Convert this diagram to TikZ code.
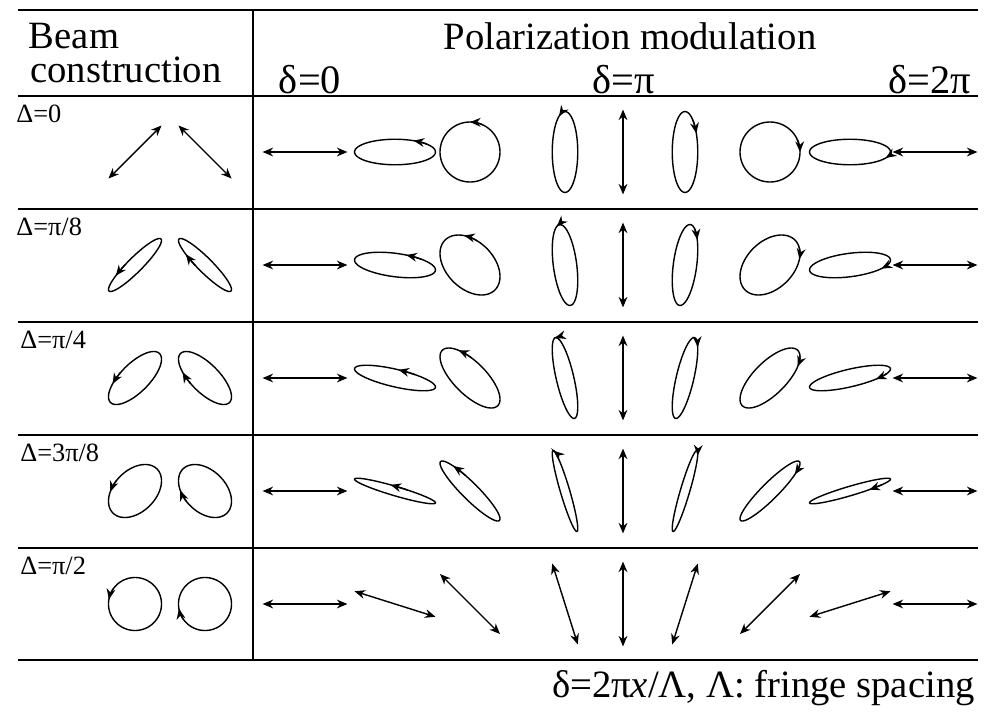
\documentclass[tikz,border=0pt]{standalone}
\usepackage{fontspec}
\setmainfont{Liberation Serif}
\usetikzlibrary{arrows.meta}
\begin{document}
\begin{tikzpicture}[x=0.02cm,y=-0.02cm,
  rule/.style={line width=0.9pt},
  pol/.style={line width=0.8pt},
  lin/.style={line width=0.8pt,{Stealth[length=6pt,width=5pt]}-{Stealth[length=6pt,width=5pt]}},
  tip/.style={line width=0.8pt,-{Stealth[length=6pt,width=5pt]}},
  big/.style={font=\fontsize{22}{24}\selectfont,inner sep=0pt},
  mid/.style={font=\fontsize{23}{25}\selectfont,inner sep=0pt},
  small/.style={font=\fontsize{15}{17}\selectfont,inner sep=0pt,anchor=west}]
\useasboundingbox (0,0) rectangle (1000,717);
% rules
\foreach \yy in {10,96,209,322,435,548,660}
  \draw[rule] (18,\yy) -- (978,\yy);
\draw[rule] (253,10) -- (253,660);
% headers
\node[big] (beam) at (74,36) {Beam};
\node[big] (cons) at (126,70) {construction};
\node[big] (pm) at (630,36) {Polarization modulation};
\node[mid] (d0) at (310,80) {δ=0};
\node[mid] (dp) at (624,80) {δ=π};
\node[mid] (d2) at (930,80) {δ=2π};
\node[small] (D0) at (16,114) {Δ=0};
\node[small] (D1) at (16,227) {Δ=π/8};
\node[small] (D2) at (20,340) {Δ=π/4};
\node[small] (D3) at (20,453) {Δ=3π/8};
\node[small] (D4) at (20,566) {Δ=π/2};
\node[big,anchor=east] (cap) at (975,688) {δ=2π\textit{x}/Λ, Λ: fringe spacing};
% left beams
\foreach \r in {0,...,4}{
  \pgfmathsetmacro\ch{\r*11.25}
  \pgfmathsetmacro\aa{1.25*cos(\ch)}
  \pgfmathsetmacro\bb{1.25*sin(\ch)}
  \pgfmathsetmacro\cy{152+113*\r}
  \foreach \bx/\rot/\sg in {135/45/1,205/-45/-1}{
    \begin{scope}[shift={(\bx,\cy)}]
    \begin{scope}[x=0.6cm,y=0.6cm,rotate=\rot]
      \ifnum\r=0
        \draw[lin] (-\aa,0) -- (\aa,0);
      \else
        \draw[pol] plot[domain=0:360,samples=72,smooth] ({\aa*cos(\x)},{\bb*sin(\x)});
        \draw[tip] plot[domain=100:125,samples=6,smooth] ({\aa*cos(\x)},{\sg*\bb*sin(\x)});
      \fi
    \end{scope}
    \end{scope}
  }
}
% modulation
\foreach \r in {0,...,4}{
  \foreach \k in {0,...,8}{
    \pgfmathsetmacro\ch{\r*11.25}
    \pgfmathsetmacro\dl{{0,35,90,145,180,215,270,325,360}[\k]}
    \pgfmathsetmacro\cx{{305,395,470,565,623,685,770,850,935}[\k]}
    \pgfmathsetmacro\cy{152+113*\r}
    \pgfmathsetmacro\px{0.7071*(cos(\ch)+cos(\ch+\dl))}
    \pgfmathsetmacro\qx{-0.7071*(sin(\ch)+sin(\ch+\dl))}
    \pgfmathsetmacro\py{0.7071*(cos(\ch)-cos(\ch-\dl))}
    \pgfmathsetmacro\qy{0.7071*(sin(\ch)-sin(\ch-\dl))}
    \pgfmathsetmacro\ar{abs(\px*\qy-\qx*\py)}
    \pgfmathsetmacro\ll{sqrt(\px*\px+\py*\py+\qx*\qx+\qy*\qy)}
    \pgfmathsetmacro\pp{max(sqrt(\px*\px+\py*\py),0.001)}
    \pgfmathsetmacro\qq{max(sqrt(\qx*\qx+\qy*\qy),0.001)}
    \pgfmathsetmacro\vx{(\pp > \qq) ? \px*\ll/\pp : \qx*\ll/\qq}
    \pgfmathsetmacro\vy{(\pp > \qq) ? \py*\ll/\pp : \qy*\ll/\qq}
    \begin{scope}[shift={(\cx,\cy)}]
    \begin{scope}[x=0.6cm,y=0.6cm]
      \ifdim\ar pt<0.02pt
        \draw[lin] (-\vx,-\vy) -- (\vx,\vy);
      \else
        \draw[pol] plot[domain=0:360,samples=90,smooth] ({\px*cos(\x)+\qx*sin(\x)},{\py*cos(\x)+\qy*sin(\x)});
        \draw[tip] plot[domain=20:45,samples=6,smooth] ({\px*cos(\x)+\qx*sin(\x)},{\py*cos(\x)+\qy*sin(\x)});
      \fi
    \end{scope}
    \end{scope}
  }
}
\end{tikzpicture}
\end{document}
